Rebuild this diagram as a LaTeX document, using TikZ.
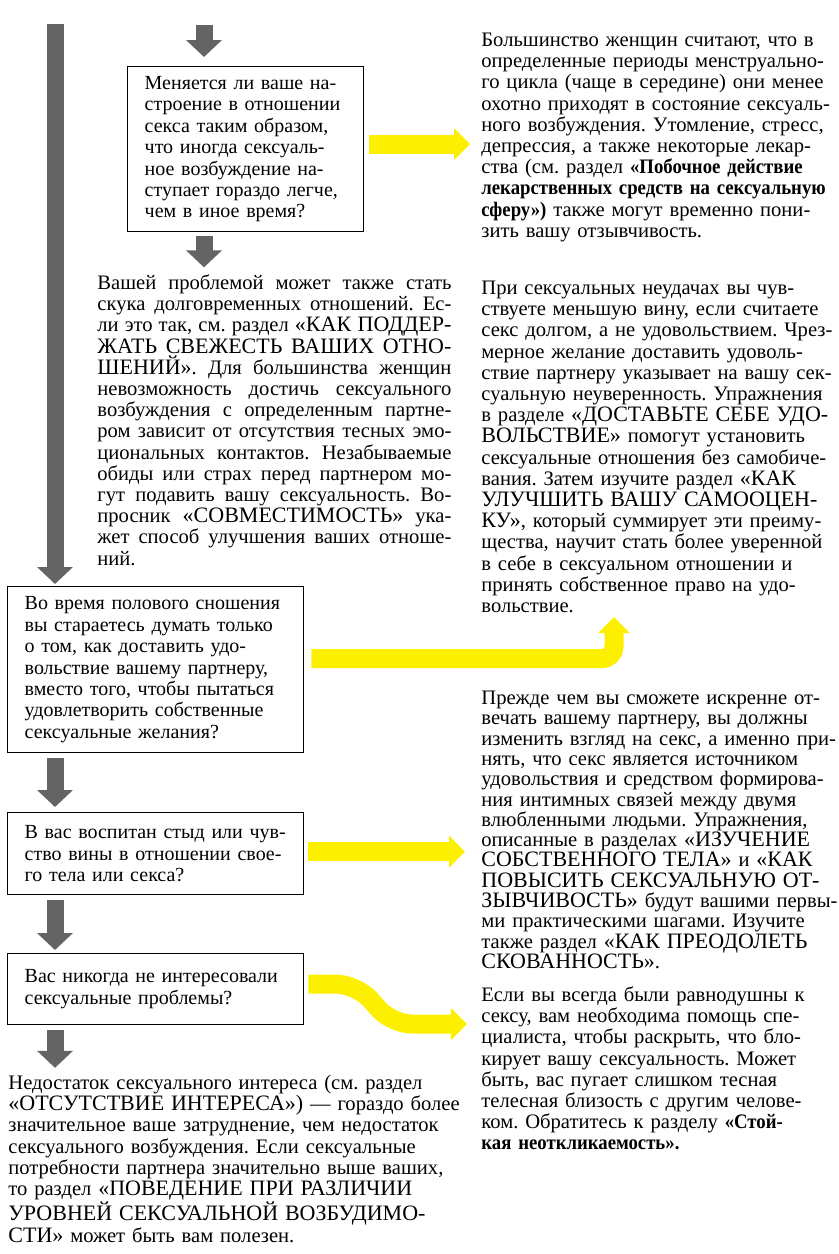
\documentclass[tikz,border=0pt]{standalone}
\usepackage{fontspec}
\setmainfont{Liberation Serif}[BoldFeatures={FakeStretch=0.91}]
\usetikzlibrary{arrows.meta}
\definecolor{hlyellow}{RGB}{252,240,0}
\definecolor{arrgray}{RGB}{100,100,100}
% section names are set in larger capitals
\newcommand\rubr[1]{{\fontsize{11}{10}\selectfont #1}}
\frenchspacing

\begin{document}
\begin{tikzpicture}[x=0.5pt, y=-0.5pt,
  qbox/.style={draw, line width=0.7pt, anchor=north west, align=left, inner xsep=8.5pt, inner ysep=0pt,
    text width=131pt, minimum width=148pt, font=\fontsize{10}{10.7}\selectfont\frenchspacing},
  para/.style={anchor=base west, inner sep=0pt, align=left, font=\fontsize{10.3}{10.6}\selectfont\frenchspacing},
  down/.style={draw=arrgray, line width=8.5pt, -{Triangle[width=17.5pt, length=8.5pt]}},
  hl/.style={draw=hlyellow, line width=9.5pt, -{Triangle[width=15.5pt, length=8pt]}}
]
\useasboundingbox (0,0) rectangle (839,1254);

% left column: questions
\node[qbox, text width=101pt, inner xsep=8.5pt, minimum width=118pt, minimum height=82.5pt] (q1) at (127,66) {Меняется ли ваше на-\\
строение в отношении\\
секса таким образом,\\
что иногда сексуаль-\\
ное возбуждение на-\\
ступает гораздо легче,\\
чем в иное время?};
\node[qbox, minimum height=83pt] (q3) at (7,586) {Во время полового сношения\\
вы стараетесь думать только\\
о том, как доставить удо-\\
вольствие вашему партнеру,\\
вместо того, чтобы пытаться\\
удовлетворить собственные\\
сексуальные желания?};
\node[qbox, minimum height=41pt] (q4) at (7,812) {В вас воспитан стыд или чув-\\
ство вины в отношении свое-\\
го тела или секса?};
\node[qbox, minimum height=35.5pt] (q5) at (7,953) {Вас никогда не интересовали\\
сексуальные проблемы?};

% left column: answers
\node[para, align=justify, text width=177pt] (t1) at (97,289.5) {Вашей проблемой может также стать\linebreak
скука долговременных отношений. Ес-\linebreak
ли это так, см. раздел \rubr{«КАК ПОДДЕР-}\linebreak
\rubr{ЖАТЬ СВЕЖЕСТЬ ВАШИХ ОТНО-}\linebreak
\rubr{ШЕНИЙ»}. Для большинства женщин\linebreak
невозможность достичь сексуального\linebreak
возбуждения с определенным партне-\linebreak
ром зависит от отсутствия тесных эмо-\linebreak
циональных контактов. Незабываемые\linebreak
обиды или страх перед партнером мо-\linebreak
гут подавить вашу сексуальность. Во-\linebreak
просник \rubr{«СОВМЕСТИМОСТЬ»} ука-\linebreak
жет способ улучшения ваших отноше-\linebreak
ний.};
\node[para, text width=232pt] (t6) at (8,1089.5) {Недостаток сексуального интереса (см. раздел\\
\rubr{«ОТСУТСТВИЕ ИНТЕРЕСА»)} — гораздо более\\
значительное ваше затруднение, чем недостаток\\
сексуального возбуждения. Если сексуальные\\
потребности партнера значительно выше ваших,\\
то раздел \rubr{«ПОВЕДЕНИЕ ПРИ РАЗЛИЧИИ}\\
\rubr{УРОВНЕЙ СЕКСУАЛЬНОЙ ВОЗБУДИМО-}\\
\rubr{СТИ»} может быть вам полезен.};

% right column
\node[para, text width=179pt] (r1) at (481,46.5) {Большинство женщин считают, что в\\
определенные периоды менструально-\\
го цикла (чаще в середине) они менее\\
охотно приходят в состояние сексуаль-\\
ного возбуждения. Утомление, стресс,\\
депрессия, а также некоторые лекар-\\
ства (см. раздел \textbf{«Побочное действие}\\
\textbf{лекарственных средств на сексуальную}\\
\textbf{сферу»)} также могут временно пони-\\
зить вашу отзывчивость.};
\node[para, text width=179pt] (r2) at (481,294.5) {При сексуальных неудачах вы чув-\\
ствуете меньшую вину, если считаете\\
секс долгом, а не удовольствием. Чрез-\\
мерное желание доставить удоволь-\\
ствие партнеру указывает на вашу сек-\\
суальную неуверенность. Упражнения\\
в разделе \rubr{«ДОСТАВЬТЕ СЕБЕ УДО-}\\
\rubr{ВОЛЬСТВИЕ»} помогут установить\\
сексуальные отношения без самобиче-\\
вания. Затем изучите раздел \rubr{«КАК}\\
\rubr{УЛУЧШИТЬ ВАШУ САМООЦЕН-}\\
\rubr{КУ»}, который суммирует эти преиму-\\
щества, научит стать более уверенной\\
в себе в сексуальном отношении и\\
принять собственное право на удо-\\
вольствие.};
\node[para, text width=179pt, font=\fontsize{10.3}{10.15}\selectfont\frenchspacing] (r3) at (481,704.5) {Прежде чем вы сможете искренне от-\\
вечать вашему партнеру, вы должны\\
изменить взгляд на секс, а именно при-\\
нять, что секс является источником\\
удовольствия и средством формирова-\\
ния интимных связей между двумя\\
влюбленными людьми. Упражнения,\\
описанные в разделах \rubr{«ИЗУЧЕНИЕ}\\
\rubr{СОБСТВЕННОГО ТЕЛА»} и \rubr{«КАК}\\
\rubr{ПОВЫСИТЬ СЕКСУАЛЬНУЮ ОТ-}\\
\rubr{ЗЫВЧИВОСТЬ»} будут вашими первы-\\
ми практическими шагами. Изучите\\
также раздел \rubr{«КАК ПРЕОДОЛЕТЬ}\\
\rubr{СКОВАННОСТЬ»}.};
\node[para, text width=179pt] (r4) at (481,1001.5) {Если вы всегда были равнодушны к\\
сексу, вам необходима помощь спе-\\
циалиста, чтобы раскрыть, что бло-\\
кирует вашу сексуальность. Может\\
быть, вас пугает слишком тесная\\
телесная близость с другим челове-\\
ком. Обратитесь к разделу \textbf{«Стой-}\\
\textbf{кая неоткликаемость».}};

% gray flow arrows
\coordinate (s0) at (55,24);
\coordinate (s1) at (204,25);
\draw[down, shorten >=1pt] (s0) -- (s0 |- q3.north);
\draw[down, shorten >=4.5pt] (s1) -- (s1 |- q1.north);
\draw[down, shorten <=2pt, shorten >=3.5pt] (q1.south -| s1) -- (s1 |- t1.north);
\draw[down, shorten <=2.5pt, shorten >=2.5pt] (q3.south -| s0) -- (s0 |- q4.north);
\draw[down, shorten <=2.5pt, shorten >=1.5pt] (q4.south -| s0) -- (s0 |- q5.north);
\draw[down, shorten <=2.5pt, shorten >=3.5pt] (q5.south -| s0) -- (s0 |- t6.north);

% yellow arrows to the answers
\coordinate (y2tip) at (614,617);
\coordinate (y4tip) at (467,1024);
\draw[hl, shorten <=2.5pt, shorten >=5.5pt] ([yshift=2.5pt]q1.east) -- ([yshift=2.5pt]q1.east -| r1.west);
\draw[hl, rounded corners=6pt, shorten <=3.5pt] ([yshift=5.5pt]q3.east) -| (y2tip);
\draw[hl, shorten <=2pt, shorten >=8pt] ([yshift=1pt]q4.east) -- ([yshift=1pt]q4.east -| r3.west);
\draw[hl, rounded corners=10pt, shorten <=2pt] ([yshift=2.5pt]q5.east) -- ++(52,0) -- ++(36,40) -- (y4tip);
\end{tikzpicture}
\end{document}
